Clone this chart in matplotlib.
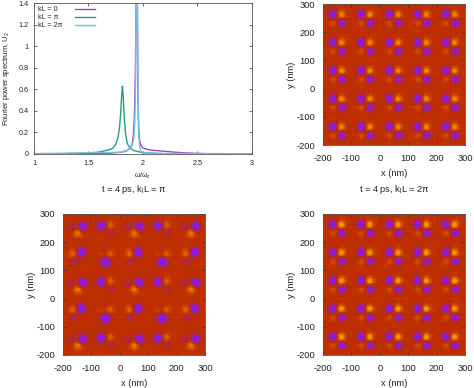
#!/usr/bin/env python3
import numpy as np
import matplotlib
matplotlib.use('Agg')
import matplotlib.pyplot as plt
from matplotlib.colors import LinearSegmentedColormap

plt.rcParams['font.family'] = ['Liberation Sans', 'DejaVu Sans']
plt.rcParams['mathtext.fontset'] = 'custom'
plt.rcParams['mathtext.rm'] = 'Liberation Sans'
plt.rcParams['mathtext.it'] = 'Liberation Sans'
plt.rcParams['mathtext.default'] = 'regular'
plt.rcParams['axes.unicode_minus'] = False

W, H = 474, 388

# spectrum curves
freq_0 = [1.0, 1.3, 1.5, 1.7, 1.8, 1.85, 1.88, 1.9, 1.91, 1.92, 1.93, 1.937, 1.942, 1.948, 1.953, 1.96,
          1.97, 1.98, 2.0, 2.05, 2.1, 2.2, 2.3, 2.4, 2.5, 2.6, 3.0]
power_0 = [0.0, 0.002, 0.004, 0.008, 0.016, 0.03, 0.05, 0.09, 0.16, 0.32, 0.75, 1.4, 1.7, 1.45, 0.6, 0.24,
           0.12, 0.08, 0.055, 0.04, 0.034, 0.025, 0.016, 0.01, 0.005, 0.002, 0.0]

freq_pi = [1.0, 1.3, 1.5, 1.6, 1.67, 1.72, 1.75, 1.77, 1.785, 1.795, 1.805, 1.812, 1.82, 1.83, 1.84, 1.855,
           1.88, 1.92, 2.0, 2.2, 3.0]
power_pi = [0.0, 0.003, 0.01, 0.018, 0.035, 0.05, 0.09, 0.15, 0.25, 0.38, 0.56, 0.63, 0.5, 0.3, 0.19, 0.1,
            0.055, 0.03, 0.012, 0.003, 0.0]

freq_2pi = [1.0, 1.3, 1.5, 1.7, 1.8, 1.85, 1.88, 1.9, 1.915, 1.925, 1.932, 1.938, 1.943, 1.948, 1.953,
            1.96, 1.97, 1.98, 2.0, 2.05, 2.2, 2.5, 3.0]
power_2pi = [0.004, 0.008, 0.012, 0.012, 0.018, 0.03, 0.05, 0.08, 0.14, 0.3, 0.7, 1.5, 1.8, 1.5, 0.7,
             0.2, 0.06, 0.03, 0.012, 0.006, 0.005, 0.005, 0.002]

legend_labels = ['kL = 0', 'kL = π', 'kL = 2π']
line_colors = ['#a040c8', '#20a080', '#70c0e6']

# blobs of one repeating cell: x, y (nm), change from the background level, width (nm)
cell_x_even = [-165, -137, -165, -134]
cell_y_even = [264, 263, 234, 234]
cell_amp_0 = [-0.32, 0.27, 0.12, -0.30]
cell_amp_2pi = [-0.32, 0.32, 0.12, -0.30]
cell_width_even = [11, 10, 8, 10]

cell_x_pi = [-132, -171, -148, -65, -36, -30, -65,
             -165, -137, -162, -50, -36, -65, -53]
cell_y_pi = [256, 253, 234, 259, 262, 234, 234,
             161, 165, 131, 131, 158, 155, 178]
cell_amp_pi = [-0.32, -0.14, 0.23, -0.32, 0.17, -0.13, 0.03,
               0.19, -0.32, -0.14, -0.34, 0.17, 0.07, -0.07]
cell_width_pi = [12, 9, 11, 12, 10, 8, 8,
                 10, 12, 9, 13, 10, 8, 8]

background_level = 0.56
palette_stops = [0.0, 0.22, 0.3, 0.4, 0.5, 0.56, 0.68, 0.8, 0.9, 1.0]
palette_colors = ['#000000', '#7a18ff', '#8a1cf0', '#a02098', '#b82c20', '#c03000', '#d85400', '#f49000', '#ffb800', '#ffff20']

x_ticks = [-200, -100, 0, 100, 200, 300]
y_ticks = [-200, -100, 0, 100, 200, 300]


def build_field(cell_x, cell_y, cell_amp, cell_width, period):
    axis = np.linspace(-200, 300, 251)
    xx, yy = np.meshgrid(axis, axis)
    field = np.full(xx.shape, background_level)
    for i in range(-1, 7):
        for j in range(-1, 7):
            for bx, by, amp, width in zip(cell_x, cell_y, cell_amp, cell_width):
                cx = bx + i * period
                cy = by - j * period
                field += amp * np.exp(-((xx - cx) ** 2 + (yy - cy) ** 2) / (2 * width ** 2))
    return field


def place(box):
    # box given in image pixels: left, top, right, bottom
    left, top, right, bottom = box
    return fig.add_axes([left / W, 1 - bottom / H, (right - left) / W, (bottom - top) / H])


def draw_map(box, field, title=None):
    ax = place(box)
    ax.imshow(field, origin='lower', extent=[-200, 300, -200, 300], cmap=cmap, vmin=0, vmax=1,
              interpolation='bilinear', aspect='auto')
    # faint mesh of the surface plot
    for g in range(-200, 300, 16):
        ax.axvline(g, color='#7a1500', lw=0.4, alpha=0.1)
        ax.axhline(g, color='#7a1500', lw=0.4, alpha=0.1)
    ax.set_xlim(-200, 300)
    ax.set_ylim(-200, 300)
    ax.set_xticks(x_ticks)
    ax.set_yticks(y_ticks)
    ax.tick_params(direction='in', top=True, right=True, length=2, width=0.5, labelsize=6.7,
                   color='#333333', labelcolor='#222222')
    ax.tick_params(axis='x', pad=6.5)
    ax.tick_params(axis='y', pad=5.5)
    ax.set_xlabel('x (nm)', fontsize=6.7, labelpad=4.5, color='#222222')
    ax.set_ylabel('y (nm)', fontsize=6.7, labelpad=0, color='#222222')
    for s in ax.spines.values():
        s.set_linewidth(0.6)
        s.set_color('#555555')
    if title:
        fig.text((box[0] + box[2]) / 2 / W, 1 - 190 / H, title, fontsize=6.7, ha='center', va='center',
                 color='#222222')


fig = plt.figure(figsize=(W / 100, H / 100), dpi=100)
cmap = LinearSegmentedColormap.from_list('pm3d', list(zip(palette_stops, palette_colors)))

# spectrum panel
ax = place((34, 3, 252, 154))
ax.plot(freq_0, power_0, color=line_colors[0], lw=1.0)
ax.plot(freq_pi, power_pi, color=line_colors[1], lw=1.0)
ax.plot(freq_2pi, power_2pi, color=line_colors[2], lw=1.0)
ax.set_xlim(1, 3)
ax.set_ylim(0, 1.4)
ax.set_xticks([1, 1.5, 2, 2.5, 3])
ax.set_xticklabels(['1', '1.5', '2', '2.5', '3'])
ax.set_yticks([0, 0.2, 0.4, 0.6, 0.8, 1, 1.2, 1.4])
ax.set_yticklabels(['0', '0.2', '0.4', '0.6', '0.8', '1', '1.2', '1.4'])
ax.tick_params(direction='in', top=True, right=True, length=2, width=0.5, labelsize=5.2, pad=3.6,
               color='#333333', labelcolor='#222222')
ax.tick_params(axis='x', pad=4.5)
ax.set_xlabel('ω/ω$_c$', fontsize=5, labelpad=2.5, color='#222222')
ax.set_ylabel('Fourier power spectrum, U$_2$', fontsize=5.5, labelpad=5, color='#222222')
for s in ax.spines.values():
    s.set_linewidth(0.6)
    s.set_color('#555555')

# key: labels left aligned, samples to the right of them
for label, color, key_y in zip(legend_labels, line_colors, [0.96, 0.907, 0.854]):
    ax.text(0.018, key_y, label, transform=ax.transAxes, fontsize=5.2, va='center', color='#222222')
    ax.plot([0.188, 0.28], [key_y, key_y], transform=ax.transAxes, color=color, lw=1.0)

# maps
draw_map((323, 4, 465, 145), build_field(cell_x_even, cell_y_even, cell_amp_0, cell_width_even, 100))
draw_map((63, 214, 205, 355), build_field(cell_x_pi, cell_y_pi, cell_amp_pi, cell_width_pi, 200),
         't = 4 ps, k$_l$L = π')
draw_map((323, 214, 465, 355), build_field(cell_x_even, cell_y_even, cell_amp_2pi, cell_width_even, 100),
         't = 4 ps, k$_l$L = 2π')

fig.savefig('out.png', dpi=100)
